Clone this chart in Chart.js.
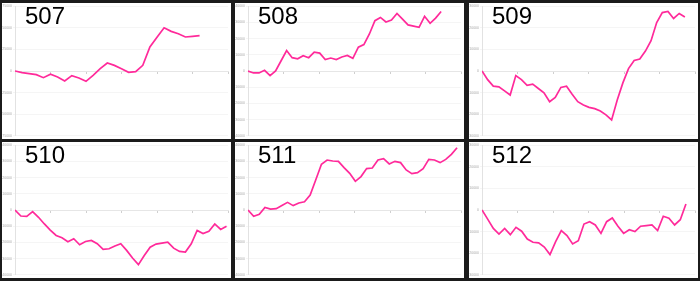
<!DOCTYPE html>
<html>
<head>
<meta charset="utf-8">
<script src="https://cdn.jsdelivr.net/npm/chart.js@4.4.1/dist/chart.umd.min.js"></script>
<style>
  html, body { margin: 0; padding: 0; background: #1b1b1b; }
  body { width: 700px; height: 281px; position: relative; overflow: hidden; }
  .panel { position: absolute; width: 229px; height: 136px; background: #fff; }
  .panel canvas { position: absolute; left: 0; top: 0; }
  .panel .name { position: absolute; left: 23px; top: 1px; font: 24px/24px "Liberation Sans", Arial, sans-serif; color: #000; }
</style>
</head>
<body>
<script>
const panelNames = ['507', '508', '509', '510', '511', '512'];

const values507 = [0, -1900, -3100, -4200, -7700, -3800, -6900, -11500, -5400, -8100, -11900, -5000, 2700, 9200,
  6500, 2700, -1500, -800, 6500, 27700, 39000, 50000, 45800, 43100, 39300, 40000, 40800];
const values508 = [0, -1200, -1200, 400, -2900, 0, 6300, 12600, 8200, 7500, 9400, 8200, 11600, 11000, 7100, 8000,
  7100, 8600, 9600, 7800, 14700, 16300, 22800, 31000, 33000, 30200, 31400, 35500, 32000, 28400, 27700, 26900,
  33700, 29400, 32600, 36700];
const values509 = [0, -4000, -7000, -7300, -9200, -11100, -2100, -4000, -6600, -6100, -8100, -10100, -14200, -12200,
  -7600, -7000, -10700, -14200, -15700, -16800, -17400, -18500, -20300, -22600, -13400, -5500, 1100, 4900, 5500,
  9200, 14000, 22400, 27000, 27500, 24300, 26600, 25000];
const values510 = [0, -3700, -3900, -1000, -4500, -8600, -12400, -15700, -17100, -19600, -17700, -21400, -19400,
  -18800, -20800, -24300, -23900, -22200, -20800, -24900, -29600, -33700, -28000, -22900, -21000, -20400, -19800,
  -23500, -25500, -25900, -20800, -12600, -14500, -13100, -8600, -12000, -10000];
const values511 = [0, -3900, -2700, 1600, 600, 800, 2700, 4700, 2700, 4300, 5100, 9200, 18600, 28200, 30800, 30200,
  30000, 26100, 22600, 17700, 20600, 25500, 25900, 30800, 31600, 28400, 30000, 29200, 24700, 22400, 23000, 25500,
  31200, 30800, 29200, 31200, 34300, 38400];
const values512 = [0, -4200, -8500, -11100, -8500, -11400, -8000, -9800, -13400, -14900, -15200, -17100, -20600,
  -14600, -9500, -11800, -15700, -14200, -6500, -5400, -6900, -10800, -5400, -3700, -7500, -10800, -9100, -10000,
  -7500, -7200, -6900, -9500, -2900, -3800, -6900, -4500, 2800];

const yLimits = [75000, 40000, 30000, 40000, 40000, 30000];
const yStepSizes = [25000, 10000, 10000, 10000, 10000, 10000];
const xLimits = [30, 38.6, 37.8, 36.25, 37.7, 37.6];

const allValues = [values507, values508, values509, values510, values511, values512];
const panelLeft = [2, 235, 469];
const panelTop = [3, 142];
const lineColor = '#ff2a9a';

panelNames.forEach((name, i) => {
  const panel = document.createElement('div');
  panel.className = 'panel';
  panel.style.left = panelLeft[i % 3] + 'px';
  panel.style.top = panelTop[Math.floor(i / 3)] + 'px';
  const canvas = document.createElement('canvas');
  canvas.width = 229;
  canvas.height = 136;
  panel.appendChild(canvas);
  const label = document.createElement('div');
  label.className = 'name';
  label.textContent = name;
  panel.appendChild(label);
  document.body.appendChild(panel);

  const xMax = xLimits[i];
  new Chart(canvas, {
    type: 'line',
    data: {
      datasets: [{
        data: allValues[i].map((v, k) => ({ x: k, y: v })),
        borderColor: lineColor,
        borderWidth: 1.7,
        pointRadius: 0,
        tension: 0
      }]
    },
    options: {
      responsive: false,
      animation: false,
      devicePixelRatio: 1,
      layout: { padding: { top: 0, right: 3, bottom: 0, left: 0 } },
      plugins: { legend: { display: false }, tooltip: { enabled: false } },
      scales: {
        x: {
          type: 'linear',
          min: 0,
          max: xMax,
          position: { y: 0 },
          afterBuildTicks: s => { s.ticks = [0, 1, 2, 3, 4, 5, 6].map(k => ({ value: k * xMax / 6 })); },
          ticks: { display: false },
          grid: { drawOnChartArea: false, drawTicks: true, tickLength: 2, color: '#cfcfcf' },
          border: { color: '#e6e6e6' }
        },
        y: {
          min: -yLimits[i],
          max: yLimits[i],
          afterFit: s => { s.width = 13; },
          ticks: { stepSize: yStepSizes[i], font: { size: 3.5 }, color: '#aaa', padding: 1, callback: v => String(v) },
          grid: { color: '#f5f5f5', tickLength: 2 },
          border: { color: '#e2e2e2' }
        }
      }
    }
  });
});
</script>
</body>
</html>
